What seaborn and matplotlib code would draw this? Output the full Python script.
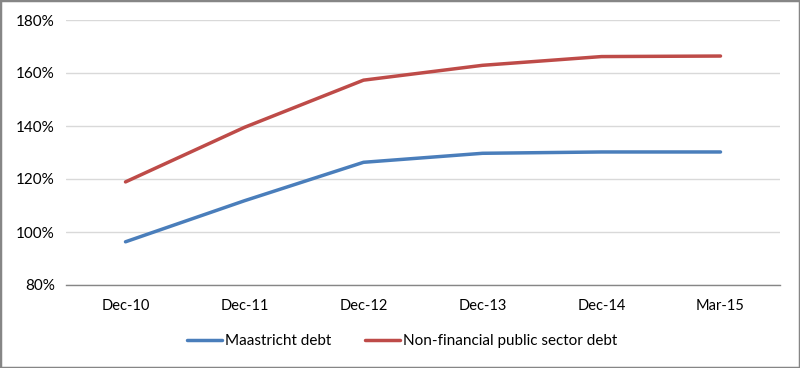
import matplotlib
matplotlib.use("Agg")
import matplotlib.pyplot as plt
import seaborn as sns
import pandas as pd
from matplotlib.patches import Rectangle
from matplotlib.ticker import FuncFormatter, FixedLocator

categories = ["Dec-10", "Dec-11", "Dec-12", "Dec-13", "Dec-14", "Mar-15"]
maastricht = [96.3, 111.8, 126.3, 129.7, 130.2, 130.2]
nonfin = [118.9, 139.5, 157.3, 162.9, 166.2, 166.4]
series_names = ["Maastricht debt", "Non-financial public sector debt"]
colors = ["#4A7EBB", "#BE4B48"]

df = pd.concat([
    pd.DataFrame({"period": categories, "value": maastricht, "series": series_names[0]}),
    pd.DataFrame({"period": categories, "value": nonfin, "series": series_names[1]}),
])

sns.set_style("white")
plt.rcParams["font.family"] = ["Lato", "DejaVu Sans"]

fig = plt.figure(figsize=(8, 3.68), dpi=100)
ax = fig.add_axes([66 / 800, 1 - 285 / 368, (780 - 66) / 800, (285 - 20) / 368])

sns.lineplot(data=df, x="period", y="value", hue="series", palette=colors,
             linewidth=2.5, ax=ax, sort=False, legend=True)

ax.set_ylim(80, 180)
ax.set_yticks(range(80, 181, 20))
ax.yaxis.set_major_formatter(FuncFormatter(lambda v, p: f"{int(v)}%"))
ax.set_xlim(-0.5, len(categories) - 0.5)
ax.set_xticks(range(len(categories)))
ax.set_xticklabels(categories)
ax.xaxis.set_minor_locator(FixedLocator([i - 0.5 for i in range(len(categories) + 1)]))
ax.tick_params(axis="x", which="major", length=0, pad=10, labelsize=10.5, colors="#000000")
ax.tick_params(axis="x", which="minor", length=5, width=1, color="#868686", direction="out")
ax.tick_params(axis="y", length=0, pad=8, labelsize=11, colors="#000000")
ax.set_xlabel("")
ax.set_ylabel("")

ax.grid(axis="y", color="#D9D9D9", linewidth=1)
ax.set_axisbelow(True)
for s in ["top", "right", "left"]:
    ax.spines[s].set_visible(False)
ax.spines["bottom"].set_color("#868686")
ax.spines["bottom"].set_linewidth(1)

handles, labels = ax.get_legend_handles_labels()
ax.legend_.remove()
leg = fig.legend(handles, labels, loc="center", bbox_to_anchor=(402 / 800, 1 - 341 / 368),
                 ncol=2, frameon=False, fontsize=11, handlelength=2.3, handletextpad=0.2,
                 columnspacing=2.2)
for t in leg.get_texts():
    t.set_color("#000000")

fig.add_artist(Rectangle((0, 0), 1, 1, transform=fig.transFigure, fill=False,
                         edgecolor="#868686", linewidth=2.5))

fig.savefig("out.png", dpi=100)
